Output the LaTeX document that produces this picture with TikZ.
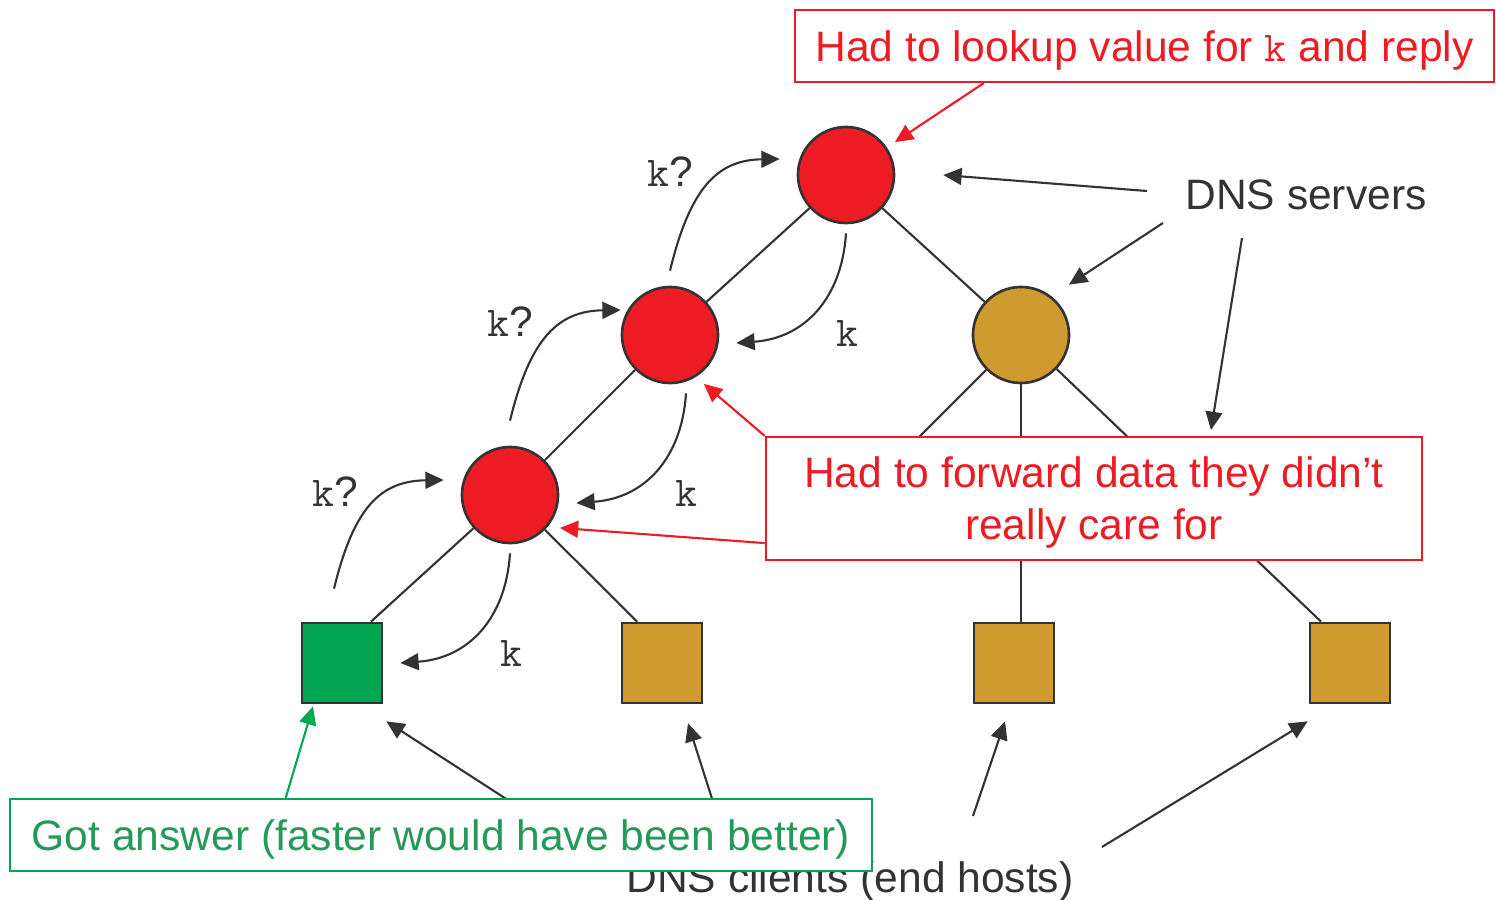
\documentclass[tikz,border=0pt]{standalone}
\usepackage{fontspec}
\setmainfont{Liberation Sans}
\usepackage{tikz}
\usetikzlibrary{arrows.meta}

\definecolor{srvred}{HTML}{ED1C24}
\definecolor{srvgold}{HTML}{CF9A2E}
\definecolor{hostgreen}{HTML}{00A651}
\definecolor{notegreen}{HTML}{24995A}
\definecolor{ink}{HTML}{333333}

\begin{document}
\begin{tikzpicture}[x=0.01cm,y=-0.01cm,>={Triangle[length=5.2pt,width=4.8pt]},
                    line width=0.6pt,color=ink,font=\fontsize{12.1}{14.8}\selectfont,
                    server/.style={circle,draw=ink,line width=0.75pt,inner sep=0pt,minimum size=0.96cm},
                    host/.style={rectangle,draw=ink,line width=0.75pt,inner sep=0pt,minimum size=0.8cm},
                    note/.style={rectangle,fill=white,line width=0.6pt,inner sep=0pt,align=center,text depth=0pt}]

  \useasboundingbox (0,0) rectangle (1496,900);

  \node[server,fill=srvred]  (s1) at (846,175) {};
  \node[server,fill=srvred]  (s2) at (670,335) {};
  \node[server,fill=srvred]  (s3) at (510,495) {};
  \node[server,fill=srvgold] (g1) at (1021,335) {};

  \node[host,fill=hostgreen] (c1) at (342,663) {};
  \node[host,fill=srvgold]   (c2) at (662,663) {};
  \node[host,fill=srvgold]   (c3) at (1014,663) {};
  \node[host,fill=srvgold]   (c4) at (1350,663) {};
  \coordinate (hid) at (880,476);

  \path (s1) edge (s2) edge (g1)
        (s2) edge (s3)
        (s3) edge (c1.55) edge (c2.121)
        (g1) edge (hid) edge (c4.125)
        (g1.south) edge (g1 |- c3.north);

  % queries going up
  \draw[->] ([shift={(-8,-33)}]c1.north) .. controls +(20,-82) and +(-63,1) .. ([shift={(-17,-15)}]s3.west);
  \draw[->] ([shift={(0,-25)}]s3.north) .. controls +(20,-82) and +(-63,1) .. ([shift={(0,-25)}]s2.west);
  \draw[->] ([shift={(0,-15)}]s2.north) .. controls +(20,-82) and +(-63,1) .. ([shift={(-17,-16)}]s1.west);

  % replies coming down
  \draw[->] ([shift={(0,9)}]s1.south) .. controls +(-4,63) and +(70,-5) .. ([shift={(17,8)}]s2.east);
  \draw[->] ([shift={(16,9)}]s2.south) .. controls +(-4,63) and +(70,-5) .. ([shift={(17,8)}]s3.east);
  \draw[->] ([shift={(0,9)}]s3.south) .. controls +(-4,63) and +(70,-5) .. ([shift={(17,0)}]c1.east);

  \node (q1) at (335,492) {\texttt{k}?};
  \node (q2) at (510,322) {\texttt{k}?};
  \node (q3) at (670,172) {\texttt{k}?};
  \node (k1) at (847,333) {\texttt{k}};
  \node (k2) at (686,493) {\texttt{k}};
  \node (k3) at (511,653) {\texttt{k}};

  \node (srv) at (1306,195) {DNS servers};
  \coordinate (a1) at (1147,191);
  \coordinate (a2) at (1163,223);
  \coordinate (a3) at (1242,238);
  \coordinate (a3e) at (1211,430);
  \path[->] (a1) edge ([shift={(48,0)}]s1.east)
            (a2) edge ([shift={(48,-1)}]g1.north)
            (a3) edge (a3e);

  \node[anchor=base] (cli) at (850,892) {DNS clients (end hosts)};
  \coordinate (b1) at (514,804);
  \coordinate (b2) at (715,808);
  \coordinate (b3) at (973,816);
  \coordinate (b4) at (1102,847);
  \path[->] (b1) edge ([shift={(3,17)}]c1.south east)
            (b2) edge ([shift={(26,19)}]c2.south)
            (b3) edge ([shift={(-9,17)}]c3.south)
            (b4) edge ([shift={(-1,17)}]c4.south west);

  \node[note,draw=srvred,text=srvred,minimum width=6.99cm,minimum height=0.72cm] (n1) at (1144.5,46)
       {Had to lookup value for \texttt{k} and reply};
  \node[note,draw=srvred,text=srvred,minimum width=6.56cm,minimum height=1.23cm] (n2) at (1094,498.5)
       {Had to forward data they didn’t\\really care for};
  \node[note,draw=hostgreen,text=notegreen,minimum width=8.62cm,minimum height=0.72cm] (n3) at (441,835)
       {Got answer (faster would have been better)};

  \draw[->,srvred] ([shift={(190,0)}]n1.south west) -- ([shift={(14,2)}]s1.north east);
  \draw[->,srvred] (n2.north west) -- ([shift={(-1,14)}]s2.south east);
  \draw[->,srvred] ([shift={(0,-18)}]n2.south west) -- ([shift={(15,-2)}]s3.south east);
  \draw[->,hostgreen] ([shift={(277,0)}]n3.north west) -- ([shift={(-29,2)}]c1.south);
\end{tikzpicture}
\end{document}
